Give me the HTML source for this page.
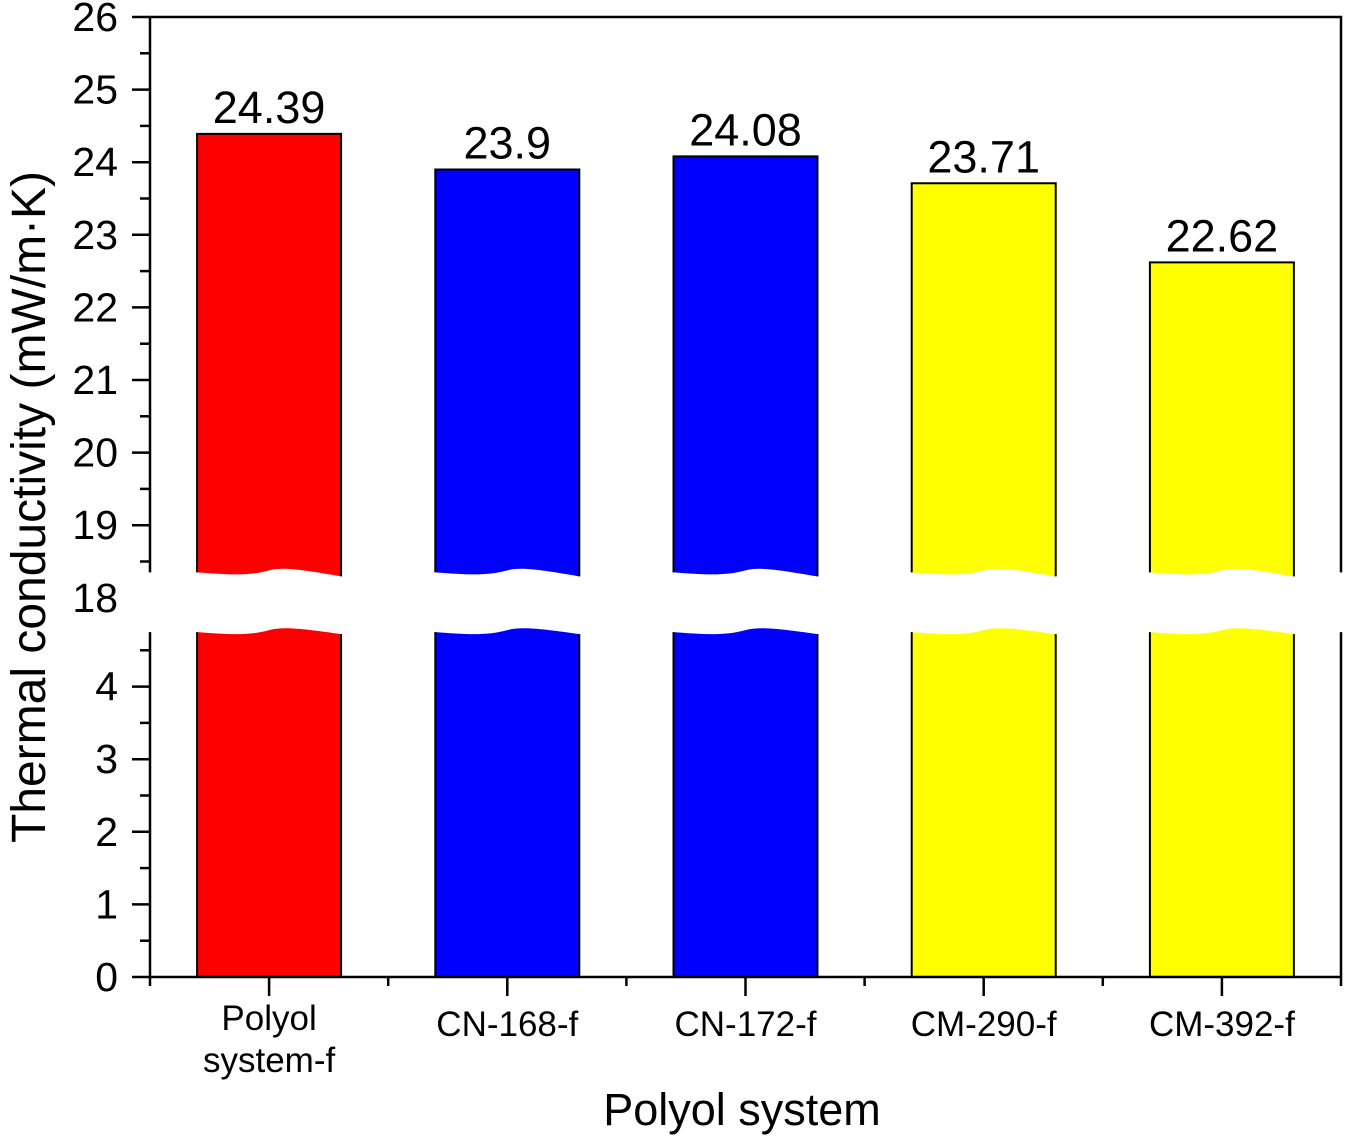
<!DOCTYPE html>
<html><head><meta charset="utf-8"><style>
html,body{margin:0;padding:0;background:#fff;}
svg{display:block;font-family:"Liberation Sans",Arial,sans-serif;}
</style></head><body>
<svg id="chart" width="1346" height="1137" viewBox="0 0 1346 1137"></svg>
<script>
const categories = [["Polyol","system-f"],["CN-168-f"],["CN-172-f"],["CM-290-f"],["CM-392-f"]];
const values = [24.39, 23.9, 24.08, 23.71, 22.62];
const valueLabels = ["24.39","23.9","24.08","23.71","22.62"];
const colors = ["#ff0000","#0000ff","#0000ff","#ffff00","#ffff00"];
const upperTicks = [18,19,20,21,22,23,24,25,26];
const lowerTicks = [0,1,2,3,4];

const NS="http://www.w3.org/2000/svg";
const svg=document.getElementById('chart');
const X0=150, X1=1341, PX=72.6;
const yUpper=v=>17+(26-v)*PX;
const yLower=v=>977-v*PX;
const upperBreak=18.35, lowerBreak=4.75;
const step=(X1-X0)/categories.length;
const xC=i=>X0+step*(i+0.5);
const BW=144;
function el(tag,attrs,parent){const e=document.createElementNS(NS,tag);for(const k in attrs)e.setAttribute(k,attrs[k]);(parent||svg).appendChild(e);return e;}

values.forEach((v,i)=>{
  const g=el('g',{});
  
  
  const l=xC(i)-BW/2, r=xC(i)+BW/2, top=yUpper(v), ub=yUpper(upperBreak), lb=yLower(lowerBreak), bot=yLower(0);
  const w=BW;
  const up=`M${l},${top} L${r},${top} L${r},${ub+4} C${l+w*0.75},${ub-2} ${l+w*0.6},${ub-6} ${l+w*0.5},${ub-2} C${l+w*0.35},${ub+4} ${l+w*0.2},${ub+2} ${l},${ub} Z`;
  el('path',{d:up,fill:colors[i],stroke:'none'},g);
  el('path',{d:`M${l},${ub} L${l},${top} L${r},${top} L${r},${ub+4}`,fill:'none',stroke:'#000','stroke-width':2},g);
  const lo=`M${l},${lb} C${l+w*0.2},${lb+2} ${l+w*0.35},${lb+4} ${l+w*0.5},${lb-2} C${l+w*0.6},${lb-6} ${l+w*0.75},${lb-3} ${r},${lb+2} L${r},${bot} L${l},${bot} Z`;
  el('path',{d:lo,fill:colors[i],stroke:'none'},g);
  el('path',{d:`M${l},${lb} L${l},${bot} M${r},${lb+2} L${r},${bot}`,fill:'none',stroke:'#000','stroke-width':2},g);
  const t=el('text',{x:xC(i),y:top-11,'text-anchor':'middle','font-size':45,fill:'#000'});
  t.textContent=valueLabels[i];
  
  
});

const ax=el('g',{stroke:'#000','stroke-width':2.5,fill:'none'});


el('path',{d:`M${X0},${yUpper(upperBreak)} L${X0},17 L${X1},17 L${X1},${yUpper(upperBreak)}`},ax);
el('path',{d:`M${X0},${yLower(lowerBreak)} L${X0},977 L${X1},977 M${X1},${yLower(lowerBreak)} L${X1},977`},ax);
upperTicks.forEach(v=>{
  if(v>18) el('line',{x1:132,x2:X0,y1:yUpper(v),y2:yUpper(v)},ax);
  if(v<26) el('line',{x1:140,x2:X0,y1:yUpper(v+0.5),y2:yUpper(v+0.5)},ax);
  const t=el('text',{x:118,y:yUpper(v)+14,'text-anchor':'end','font-size':41,fill:'#000',stroke:'none'});
  t.textContent=v;
  
  
});
lowerTicks.forEach(v=>{
  el('line',{x1:132,x2:X0,y1:yLower(v),y2:yLower(v)},ax);
  el('line',{x1:140,x2:X0,y1:yLower(v+0.5),y2:yLower(v+0.5)},ax);
  const t=el('text',{x:118,y:yLower(v)+14,'text-anchor':'end','font-size':41,fill:'#000',stroke:'none'});
  t.textContent=v;
  
  
});
for(let i=0;i<=categories.length;i++){const x=X0+step*i;el('line',{x1:x,x2:x,y1:977,y2:986},ax);}
categories.forEach((c,i)=>{
  el('line',{x1:xC(i),x2:xC(i),y1:977,y2:996},ax);
  const y0=c.length>1?1030:1036;
  c.forEach((s,j)=>{
    const t=el('text',{x:xC(i),y:y0+j*42,'text-anchor':'middle','font-size':35,fill:'#000',stroke:'none'});
    t.textContent=s;
    
    
  });
});
const xt=el('text',{x:742,y:1125,'text-anchor':'middle','font-size':45,fill:'#000'});
xt.textContent='Polyol system';


const yt=el('text',{x:0,y:0,'text-anchor':'middle','font-size':48,fill:'#000',transform:'translate(45,507) rotate(-90)'});
yt.textContent='Thermal conductivity (mW/m·K)';


</script>
</body></html>
